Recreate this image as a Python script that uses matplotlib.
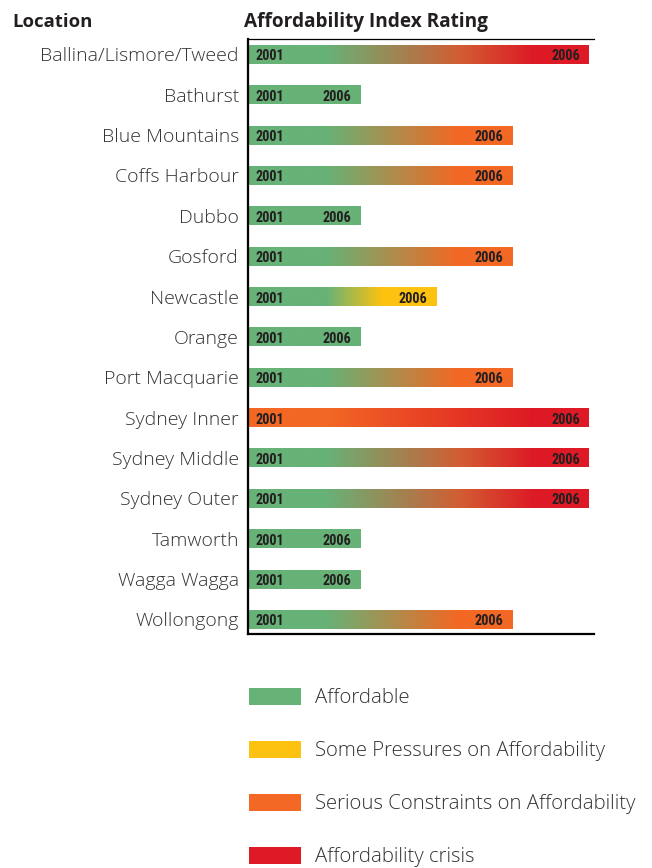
import numpy as np
import matplotlib
matplotlib.use("Agg")
import matplotlib.pyplot as plt
from matplotlib import font_manager
from matplotlib.colors import to_rgb
from matplotlib.patches import Patch

# ---- data -------------------------------------------------------------
locations = [
    "Ballina/Lismore/Tweed", "Bathurst", "Blue Mountains", "Coffs Harbour",
    "Dubbo", "Gosford", "Newcastle", "Orange", "Port Macquarie",
    "Sydney Inner", "Sydney Middle", "Sydney Outer", "Tamworth",
    "Wagga Wagga", "Wollongong",
]
# rating levels: 1 = Affordable, 2 = Some Pressures, 3 = Serious Constraints, 4 = Crisis
rating_2001 = [1, 1, 1, 1, 1, 1, 1, 1, 1, 3, 1, 1, 1, 1, 1]
rating_2006 = [4, 1, 3, 3, 1, 3, 2, 1, 3, 4, 4, 4, 1, 1, 3]
year_start = "2001"
year_end = "2006"

rating_labels = [
    "Affordable",
    "Some Pressures on Affordability",
    "Serious Constraints on Affordability",
    "Affordability crisis",
]
rating_colors = ["#67B277", "#FDC210", "#F26824", "#DD1A25"]

# ---- styling ----------------------------------------------------------
names = {f.name for f in font_manager.fontManager.ttflist}
narrow = [n for n in ("Liberation Sans Narrow", "Roboto Condensed",
                      "Open Sans Condensed", "DejaVu Sans Condensed") if n in names]
if narrow:
    year_font, year_size, year_stretch = narrow[0], 10.3, "normal"
else:
    year_font, year_size, year_stretch = "DejaVu Sans", 8.5, "condensed"
text_font = "Open Sans" if "Open Sans" in names else "DejaVu Sans"
label_color = "#333333"
head_color = "#231F20"

W, H = 652, 868
fig = plt.figure(figsize=(W / 100, H / 100), dpi=100)
fig.patch.set_facecolor("white")

# axes in pixel placement
ax_l, ax_r, ax_t, ax_b = 248, 594, 39, 634
ax = fig.add_axes([ax_l / W, 1 - ax_b / H, (ax_r - ax_l) / W, (ax_b - ax_t) / H])

bar_origin = -0.48
bar_h = 0.47
lead_solid = 0.55   # start colour held until here
tail_solid = 0.72   # end colour held over this last stretch


def bar_gradient(r0, r1, xs):
    """Colour ramp from the 2001 rating colour to the 2006 one."""
    c0 = np.array(to_rgb(rating_colors[r0 - 1]))
    c1 = np.array(to_rgb(rating_colors[r1 - 1]))
    stops, pos = [c0], [0.0]
    if r1 - r0 >= 3:
        # a jump across all levels warms up through a muted serious-orange
        mid_pos = 0.65
        straight = (1 - mid_pos) * c0 + mid_pos * c1
        stops.append(0.5 * straight + 0.5 * np.array(to_rgb(rating_colors[2])))
        pos.append(mid_pos)
    stops.append(c1)
    pos.append(1.0)
    stops = np.array(stops)
    g0, g1 = lead_solid, max(r1 - tail_solid, lead_solid + 0.6)
    t = np.clip((xs - g0) / (g1 - g0), 0, 1)
    return np.stack([np.interp(t, pos, stops[:, k]) for k in range(3)], axis=1)


n = len(locations)
for i, (loc, r0, r1) in enumerate(zip(locations, rating_2001, rating_2006)):
    x0, x1 = bar_origin, r1
    xs = np.linspace(x0, x1, 400)
    grad = bar_gradient(r0, r1, xs)
    ax.imshow(grad[None, :, :], extent=(x0, x1, i + bar_h / 2, i - bar_h / 2),
              aspect="auto", interpolation="bilinear", zorder=2)
    ax.text(x0 + 0.1, i + 0.05, year_start, ha="left", va="center",
            fontsize=year_size, fontweight="bold", family=year_font,
            fontstretch=year_stretch, color=head_color, zorder=3)
    ax.text(x1 - 0.12, i + 0.05, year_end, ha="right", va="center",
            fontsize=year_size, fontweight="bold", family=year_font,
            fontstretch=year_stretch, color=head_color, zorder=3)

ax.set_xlim(bar_origin, 4.067)
ax.set_ylim(n - 1 + 0.36, -0.38)
ax.set_yticks(range(n))
ax.set_yticklabels(locations, fontsize=14, family=text_font, fontweight="light",
                   color=label_color)
ax.tick_params(axis="y", length=0, pad=6.5)
ax.set_xticks([])
for s in ["left", "bottom"]:
    ax.spines[s].set_linewidth(1.6)
    ax.spines[s].set_color("black")
ax.spines["top"].set_linewidth(0.9)
ax.spines["top"].set_color("black")
ax.spines["right"].set_visible(False)

# column headers
fig.text(12 / W, 1 - 27 / H, "Location", fontsize=13.3, fontweight="bold",
         family=text_font, color=head_color, ha="left", va="baseline")
fig.text(244 / W, 1 - 27 / H, "Affordability Index Rating", fontsize=13.7,
         fontweight="bold", family=text_font, color=head_color,
         ha="left", va="baseline")

# legend
handles = [Patch(facecolor=c, edgecolor="none") for c in rating_colors]
leg = fig.legend(handles, rating_labels, loc="upper left",
                 bbox_to_anchor=(249 / W, 1 - 688 / H), frameon=False,
                 prop={"family": text_font, "size": 14.7, "weight": "light"},
                 handlelength=2.55, handleheight=0.87, handletextpad=0.67,
                 labelspacing=1.6, borderaxespad=0, borderpad=0)
for t in leg.get_texts():
    t.set_color(label_color)

fig.savefig("out.png", dpi=100, facecolor="white")
